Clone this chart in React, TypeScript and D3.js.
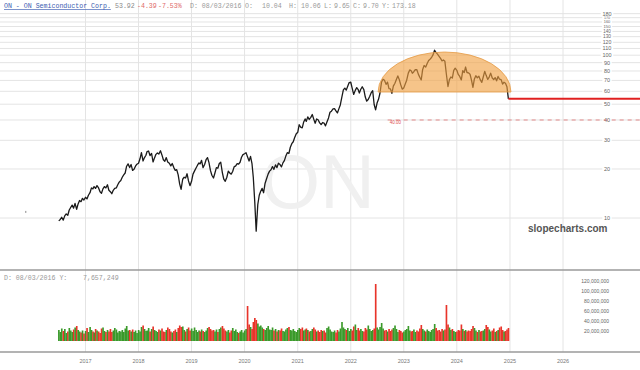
import React, { useEffect } from 'react';
import * as d3 from 'd3';

// ---- Price closes, three samples per month (days 1, 11, 21), starting July 2016 ----
const price2016 = [9.6, 9.8, 10.1, 9.7, 10.3, 10.6, 10.4, 11.2, 11.6, 12.0, 11.5, 12.3, 11.3, 12.2, 12.8, 12.6, 13.2, 12.9];
const price2017 = [13.4, 13.1, 13.8, 14.3, 15.3, 15.1, 15.6, 15.2, 15.8, 15.3, 14.5, 14.2, 15.1, 15.6, 15.3, 16.0, 14.8, 14.5,
  14.1, 14.8, 15.2, 15.3, 16.0, 16.6, 17.0, 17.8, 18.4, 18.9, 20.8, 21.5, 20.4, 21.3, 19.6, 19.9, 20.8, 21.4];
const price2018 = [21.7, 23.1, 25.2, 22.4, 23.5, 24.3, 25.6, 25.8, 24.2, 24.9, 22.1, 23.4, 24.6, 25.1, 24.7, 25.9, 24.4, 22.8,
  22.3, 23.5, 22.1, 21.7, 20.9, 21.6, 20.4, 19.6, 19.8, 18.4, 16.2, 15.0, 17.3, 17.8, 17.6, 18.7, 16.9, 15.8];
const price2019 = [16.8, 18.6, 19.4, 20.3, 21.1, 21.8, 21.5, 22.6, 20.4, 21.3, 22.8, 23.5, 21.9, 19.6, 18.3, 17.6, 18.9, 20.4,
  20.2, 21.6, 22.0, 19.0, 17.3, 16.8, 17.8, 19.4, 18.9, 18.6, 19.3, 20.6, 20.9, 21.6, 21.4, 22.0, 23.6, 24.5];
const price2020 = [24.8, 25.2, 23.8, 22.4, 23.9, 21.6, 17.8, 12.6, 8.3, 12.1, 13.8, 14.6, 15.2, 14.3, 16.3, 17.5, 18.6, 19.4,
  19.8, 20.7, 19.9, 21.2, 20.4, 21.7, 21.3, 20.6, 21.8, 22.5, 24.0, 25.2, 24.9, 27.2, 28.6, 29.4, 31.2, 32.8];
const price2021 = [33.6, 37.4, 36.2, 35.8, 38.9, 40.6, 39.2, 41.8, 40.3, 41.5, 43.2, 40.5, 38.2, 40.6, 40.1, 38.4, 37.5, 38.6,
  38.3, 36.8, 38.9, 41.2, 44.6, 45.3, 46.8, 47.0, 45.5, 44.2, 46.8, 49.5, 55.4, 61.2, 62.8, 61.0, 64.5, 67.9];
const price2022 = [68.2, 62.5, 57.4, 60.8, 63.2, 61.5, 58.6, 61.8, 64.0, 61.5, 55.3, 52.2, 53.4, 55.8, 58.6, 60.5, 49.8, 46.2,
  50.8, 53.6, 58.4, 68.5, 71.2, 70.1, 66.2, 68.3, 62.4, 62.1, 58.3, 64.6, 67.3, 70.8, 74.6, 70.8, 65.8, 61.9];
const price2023 = [63.0, 66.5, 70.2, 77.6, 81.2, 80.3, 77.5, 79.2, 81.6, 81.4, 76.5, 73.2, 70.6, 81.8, 86.4, 84.5, 88.9, 92.8,
  94.5, 96.8, 100.4, 107.3, 103.8, 101.6, 98.5, 95.6, 92.3, 93.4, 91.7, 76.6, 64.2, 70.8, 73.5, 72.4, 80.6, 83.2];
const price2024 = [80.8, 76.2, 74.1, 70.5, 80.4, 78.2, 84.6, 78.3, 77.9, 76.4, 70.2, 63.5, 71.5, 74.8, 72.6, 74.2, 70.5, 68.1,
  73.5, 79.6, 75.2, 71.0, 73.4, 77.6, 72.4, 70.9, 72.8, 69.6, 74.0, 71.2, 70.8, 66.5, 68.2, 67.3, 64.1, 53.9];

// ---- Volume (millions of shares), same sampling ----
const vol2016 = [22, 18, 25, 20, 24, 16, 19, 26, 21, 18, 23, 27, 30, 22, 19, 17, 21, 15];
const vol2017 = [20, 26, 18, 28, 22, 19, 17, 24, 21, 19, 16, 25, 27, 20, 18, 22, 19, 24, 18, 21, 26, 23, 17, 20, 19, 22, 18, 25, 30, 21, 22, 19, 23, 18, 21, 16];
const vol2018 = [22, 19, 28, 31, 24, 20, 21, 26, 19, 24, 29, 22, 20, 18, 23, 21, 25, 19, 18, 22, 27, 24, 19, 17, 20, 23, 18, 26, 31, 28, 29, 22, 19, 24, 27, 21];
const vol2019 = [25, 20, 27, 22, 18, 21, 19, 23, 20, 18, 21, 26, 28, 24, 21, 22, 19, 23, 18, 24, 27, 30, 25, 21, 19, 22, 17, 21, 26, 20, 23, 18, 16, 19, 22, 17];
const vol2020 = [21, 24, 70, 33, 28, 24, 38, 46, 42, 35, 29, 31, 27, 24, 22, 26, 30, 23, 22, 27, 21, 24, 19, 22, 21, 25, 20, 19, 23, 26, 28, 22, 21, 24, 20, 18];
const vol2021 = [22, 26, 24, 27, 21, 23, 25, 22, 19, 20, 24, 27, 23, 19, 21, 18, 22, 20, 21, 17, 26, 29, 23, 19, 18, 21, 17, 22, 19, 25, 38, 27, 24, 22, 26, 20];
const vol2022 = [24, 21, 29, 33, 22, 26, 21, 24, 20, 19, 26, 23, 31, 24, 20, 22, 25, 114, 27, 23, 28, 36, 25, 21, 22, 19, 24, 20, 23, 26, 31, 24, 18, 22, 20, 17];
const vol2023 = [19, 22, 24, 30, 21, 19, 20, 23, 18, 21, 19, 25, 32, 24, 21, 19, 23, 20, 18, 22, 24, 34, 26, 21, 22, 19, 24, 21, 23, 72, 33, 27, 22, 24, 20, 18];
const vol2024 = [19, 22, 21, 33, 24, 20, 22, 19, 21, 20, 24, 30, 26, 21, 18, 22, 19, 20, 21, 24, 32, 28, 23, 19, 21, 25, 18, 20, 22, 27, 29, 22, 19, 20, 23, 26];

const slotDays = [1, 11, 21];
const yearTicks = [2017, 2018, 2019, 2020, 2021, 2022, 2023, 2024, 2025, 2026];
const priceTicks = [10, 20, 30, 40, 50, 60, 70, 80, 90, 100, 110, 120, 130, 140, 150, 160, 170, 180];
const volumeTicks = [20, 40, 60, 80, 100, 120];
const lastClose = 53.92;
const supportLevel = 40;
const supportStart = new Date(2022, 8, 12);
const arcStart = new Date(2022, 6, 8);
const arcEnd = new Date(2025, 0, 8);
const arcBase = 59.4;
const arcTop = 104.6;
const strayDate = new Date(2015, 10, 17);
const strayValue = 10.9;

type Row = { date: Date; close: number; volume: number; up: boolean };

function buildRows(): Row[] {
  const prices = [price2016, price2017, price2018, price2019, price2020, price2021, price2022, price2023, price2024].flat();
  const vols = [vol2016, vol2017, vol2018, vol2019, vol2020, vol2021, vol2022, vol2023, vol2024].flat();
  return prices.map((p, i) => ({
    date: new Date(2016, 6 + Math.floor(i / 3), slotDays[i % 3]),
    close: p,
    volume: vols[i],
    up: i === 0 ? true : p >= prices[i - 1],
  }));
}

const W = 640;
const H = 370;
const mono = '"Liberation Mono", "DejaVu Sans Mono", monospace';
const sans = '"Liberation Sans", Arial, sans-serif';

export default function App() {
  useEffect(() => {
    document.body.style.margin = '0';
  }, []);

  const rows = buildRows();
  const x = d3.scaleTime().domain([new Date(2017, 0, 1), new Date(2026, 0, 1)]).range([85.5, 563]);
  const y = d3.scaleLog().domain([10, 100]).range([218, 55.2]);
  const yv = d3.scaleLinear().domain([0, 120]).range([341, 281]);
  const line = d3.line<Row>().x((d) => x(d.date)).y((d) => y(d.close));

  const last = rows[rows.length - 1];
  const xa = x(arcStart);
  const xb = x(arcEnd);
  const yb = y(arcBase);
  const yt = y(arcTop);
  const rx = (xb - xa) / 2;
  const ry = yb - yt;
  const arcPath = `M${xa},${yb} A${rx},${ry} 0 0 1 ${xb},${yb} Z`;

  const step = x(new Date(2020, 0, 11)) - x(new Date(2020, 0, 1));

  const headerParts: [string, number, string][] = [
    ['53.92', 115, '#8a8a8a'],
    ['-4.39', 137, '#e06a6a'],
    ['-7.53%', 158, '#e06a6a'],
    ['D: 08/03/2016', 190, '#999'],
    ['O:', 245, '#999'],
    ['10.04', 262, '#999'],
    ['H:', 289, '#999'],
    ['10.06', 301, '#999'],
    ['L:', 324, '#999'],
    ['9.65', 334, '#999'],
    ['C:', 353, '#999'],
    ['9.70', 363, '#999'],
    ['Y:', 382, '#999'],
    ['173.18', 392, '#999'],
  ];

  return (
    <div style={{ position: 'absolute', left: 0, top: 0 }}>
      <svg width={W} height={H} viewBox={`0 0 ${W} ${H}`} style={{ display: 'block', background: '#fff' }}>
        <rect x={0} y={0} width={W} height={H} fill="#fff" />
        {/* vertical year gridlines */}
        {yearTicks.map((yr) => (
          <line key={'vg' + yr} x1={x(new Date(yr, 0, 1))} x2={x(new Date(yr, 0, 1))} y1={0} y2={352} stroke="#e4e4e4" strokeWidth={1} />
        ))}
        {/* horizontal price gridlines */}
        {priceTicks.map((t) => (
          <line key={'hg' + t} x1={0} x2={W} y1={y(t)} y2={y(t)} stroke="#e4e4e4" strokeWidth={1} />
        ))}
        {/* watermark */}
        <text x={318} y={208} textAnchor="middle" fontFamily={sans} fontSize={76} fill="#f0f0f0">ON</text>
        {/* price axis labels */}
        {priceTicks.map((t, i) => {
          const s = String(t);
          const gap = i < priceTicks.length - 1 ? y(t) - y(priceTicks[i + 1]) : 10;
          const fs = Math.min(5.5, gap * 0.92);
          const w = s.length * fs * 0.58 + 3;
          return (
            <g key={'pl' + t}>
              <rect x={607 - w / 2} y={y(t) - fs / 2} width={w} height={fs} fill="#fff" />
              <text x={607} y={y(t) + fs * 0.35} textAnchor="middle" fontFamily={sans} fontSize={fs} fill="#666">{s}</text>
            </g>
          );
        })}
        {/* support dashed line */}
        <line x1={x(supportStart)} x2={W} y1={y(supportLevel)} y2={y(supportLevel)} stroke="#e07070" strokeWidth={0.8} strokeDasharray="4,4" />
        <text x={x(supportStart) + 2} y={y(supportLevel) + 4.5} fontFamily={sans} fontSize={4.5} fill="#e05050">40.00</text>
        {/* stray mark */}
        <line x1={x(strayDate)} x2={x(strayDate)} y1={y(strayValue) - 1} y2={y(strayValue) + 1} stroke="#888" strokeWidth={1} />
        {/* price line */}
        <path d={line(rows) || ''} fill="none" stroke="#1a1a1a" strokeWidth={1.3} strokeLinejoin="round" />
        {/* rounded top annotation */}
        <path d={arcPath} fill="#f0a040" fillOpacity={0.62} stroke="#e59a45" strokeWidth={0.8} />
        {/* last price line */}
        <line x1={x(last.date)} x2={W} y1={y(lastClose)} y2={y(lastClose)} stroke="#e02020" strokeWidth={2} />
        <text x={528} y={232} fontFamily={sans} fontWeight="bold" fontSize={10} fill="#555">slopecharts.com</text>
        {/* panel separators */}
        <line x1={0} x2={W} y1={270} y2={270} stroke="#9a9a9a" strokeWidth={1.5} />
        <line x1={0} x2={W} y1={352} y2={352} stroke="#9a9a9a" strokeWidth={1.5} />
        {/* volume bars */}
        {rows.map((d, i) => (
          <rect key={'v' + i} x={x(d.date) - step / 2} y={yv(d.volume)} width={step + 0.2} height={yv(0) - yv(d.volume)} fill={d.up ? '#3a9a2a' : '#e8342a'} />
        ))}
        {volumeTicks.map((t) => (
          <text key={'vl' + t} x={609} y={yv(t) + 1.8} textAnchor="end" fontFamily={sans} fontSize={5} fill="#666">{d3.format(',')(t * 1000000)}</text>
        ))}
        {/* volume header */}
        <text x={4} y={280} fontFamily={mono} fontSize={6.6} fill="#999">D: 08/03/2016 Y:</text>
        <text x={83} y={280} fontFamily={mono} fontSize={6.6} fill="#999">7,657,249</text>
        {/* x axis year labels */}
        {yearTicks.map((yr) => (
          <text key={'yl' + yr} x={x(new Date(yr, 0, 1))} y={363} textAnchor="middle" fontFamily={sans} fontSize={5.5} fill="#777">{yr}</text>
        ))}
        {/* header */}
        <text x={4} y={8} fontFamily={mono} fontSize={6.6} fill="#3b5bb0" textDecoration="underline">ON - ON Semiconductor Corp.</text>
        {headerParts.map(([s, px, c]) => (
          <text key={'h' + s + px} x={px} y={8} fontFamily={mono} fontSize={6.6} fill={c}>{s}</text>
        ))}
      </svg>
    </div>
  );
}
